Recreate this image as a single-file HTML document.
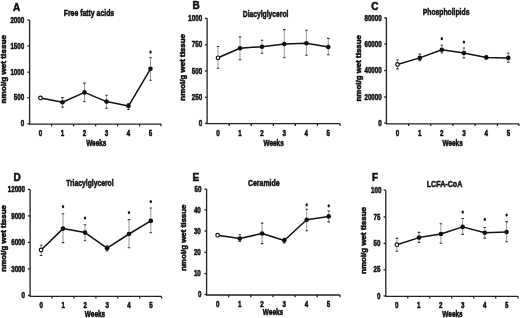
<!DOCTYPE html>
<html><head><meta charset="utf-8"><style>
html,body{margin:0;padding:0;background:#fff;width:520px;height:318px;overflow:hidden}
svg{display:block}
text{font-family:"Liberation Sans", sans-serif;font-weight:bold;fill:#111;stroke:#111;stroke-width:0.55px}
svg{will-change:transform}
.let{font-size:10px}
.tit{font-size:9.4px}
.tick{font-size:8.3px}
.wk{font-size:8.4px}
.yl{font-size:7.4px}
.axis{stroke:#222;stroke-width:1.3;fill:none}
.err{stroke:#777;stroke-width:0.75;fill:none}
.cap{stroke:#333;stroke-width:1.1;fill:none}
.ln{stroke:#111;stroke-width:1.5;fill:none;stroke-linejoin:round}
.fl{fill:#111}
.op{fill:#fff;stroke:#111;stroke-width:1.2}
.st{fill:#111}
</style></head><body>
<svg width="520" height="318" viewBox="0 0 520 318">
<rect width="520" height="318" fill="#fff"/>
<text x="13.0" y="10.6" class="let">A</text>
<text x="63.7" y="15.9" class="tit" textLength="50.5" lengthAdjust="spacingAndGlyphs">Free fatty acids</text>
<path d="M29.6 20V124.1H161" class="axis"/>
<path d="M27.4 20.1H29.6" class="axis"/>
<text x="24.2" y="22.7" class="tick" text-anchor="end" textLength="13.80" lengthAdjust="spacingAndGlyphs">2000</text>
<path d="M27.4 45.9H29.6" class="axis"/>
<text x="24.2" y="48.5" class="tick" text-anchor="end" textLength="13.80" lengthAdjust="spacingAndGlyphs">1500</text>
<path d="M27.4 72.2H29.6" class="axis"/>
<text x="24.2" y="74.8" class="tick" text-anchor="end" textLength="13.80" lengthAdjust="spacingAndGlyphs">1000</text>
<path d="M27.4 97.8H29.6" class="axis"/>
<text x="24.2" y="100.4" class="tick" text-anchor="end" textLength="10.35" lengthAdjust="spacingAndGlyphs">500</text>
<path d="M27.4 123.8H29.6" class="axis"/>
<text x="24.2" y="126.4" class="tick" text-anchor="end" textLength="3.45" lengthAdjust="spacingAndGlyphs">0</text>
<path d="M51.6 124.1v2.2" class="axis"/>
<path d="M73.6 124.1v2.2" class="axis"/>
<path d="M95.6 124.1v2.2" class="axis"/>
<path d="M117.6 124.1v2.2" class="axis"/>
<path d="M139.6 124.1v2.2" class="axis"/>
<path d="M161.0 124.1v2.2" class="axis"/>
<text x="40.5" y="135.8" class="tick" text-anchor="middle" textLength="3.45" lengthAdjust="spacingAndGlyphs">0</text>
<text x="62.5" y="135.8" class="tick" text-anchor="middle" textLength="3.45" lengthAdjust="spacingAndGlyphs">1</text>
<text x="84.5" y="135.8" class="tick" text-anchor="middle" textLength="3.45" lengthAdjust="spacingAndGlyphs">2</text>
<text x="106.5" y="135.8" class="tick" text-anchor="middle" textLength="3.45" lengthAdjust="spacingAndGlyphs">3</text>
<text x="128.5" y="135.8" class="tick" text-anchor="middle" textLength="3.45" lengthAdjust="spacingAndGlyphs">4</text>
<text x="150.5" y="135.8" class="tick" text-anchor="middle" textLength="3.45" lengthAdjust="spacingAndGlyphs">5</text>
<text x="96.3" y="146.0" class="wk" text-anchor="middle" textLength="20.3" lengthAdjust="spacingAndGlyphs">Weeks</text>
<text transform="translate(6.0 103.6) rotate(-90)" x="0" y="0" class="yl" textLength="68.6" lengthAdjust="spacingAndGlyphs">nmol/g wet tissue</text>
<path d="M62.5 97.6V107.1" class="err"/><path d="M61.25 97.6h2.5M61.25 107.1h2.5" class="cap"/>
<path d="M84.5 83.1V101.8" class="err"/><path d="M83.25 83.1h2.5M83.25 101.8h2.5" class="cap"/>
<path d="M106.5 95.2V108.2" class="err"/><path d="M105.25 95.2h2.5M105.25 108.2h2.5" class="cap"/>
<path d="M128.5 103.6V109.5" class="err"/><path d="M127.25 103.6h2.5M127.25 109.5h2.5" class="cap"/>
<path d="M150.5 57.7V80.3" class="err"/><path d="M149.25 57.7h2.5M149.25 80.3h2.5" class="cap"/>
<polyline points="40.5,98 62.5,102.3 84.5,92.4 106.5,101.6 128.5,106.1 150.5,68.8" class="ln"/>
<circle cx="40.5" cy="98" r="1.8" class="op"/>
<circle cx="62.5" cy="102.3" r="2.3" class="fl"/>
<circle cx="84.5" cy="92.4" r="2.3" class="fl"/>
<circle cx="106.5" cy="101.6" r="2.3" class="fl"/>
<circle cx="128.5" cy="106.1" r="2.3" class="fl"/>
<circle cx="150.5" cy="68.8" r="2.3" class="fl"/>
<ellipse cx="150.5" cy="52.1" rx="1.2" ry="1.6" class="st"/>
<text x="192.6" y="8.9" class="let">B</text>
<text x="242.8" y="16.7" class="tit" textLength="45.6" lengthAdjust="spacingAndGlyphs">Diacylglycerol</text>
<path d="M207.1 18.3V123.7H340" class="axis"/>
<path d="M204.9 18.3H207.1" class="axis"/>
<text x="202.1" y="20.9" class="tick" text-anchor="end" textLength="13.80" lengthAdjust="spacingAndGlyphs">1000</text>
<path d="M204.9 44.8H207.1" class="axis"/>
<text x="202.1" y="47.4" class="tick" text-anchor="end" textLength="10.35" lengthAdjust="spacingAndGlyphs">750</text>
<path d="M204.9 71.0H207.1" class="axis"/>
<text x="202.1" y="73.6" class="tick" text-anchor="end" textLength="10.35" lengthAdjust="spacingAndGlyphs">500</text>
<path d="M204.9 97.2H207.1" class="axis"/>
<text x="202.1" y="99.8" class="tick" text-anchor="end" textLength="10.35" lengthAdjust="spacingAndGlyphs">250</text>
<path d="M204.9 123.4H207.1" class="axis"/>
<text x="202.1" y="126.0" class="tick" text-anchor="end" textLength="3.45" lengthAdjust="spacingAndGlyphs">0</text>
<path d="M229.2 123.7v2.2" class="axis"/>
<path d="M251.2 123.7v2.2" class="axis"/>
<path d="M273.3 123.7v2.2" class="axis"/>
<path d="M295.3 123.7v2.2" class="axis"/>
<path d="M317.4 123.7v2.2" class="axis"/>
<path d="M340.0 123.7v2.2" class="axis"/>
<text x="218" y="135.9" class="tick" text-anchor="middle" textLength="3.45" lengthAdjust="spacingAndGlyphs">0</text>
<text x="240" y="135.9" class="tick" text-anchor="middle" textLength="3.45" lengthAdjust="spacingAndGlyphs">1</text>
<text x="262" y="135.9" class="tick" text-anchor="middle" textLength="3.45" lengthAdjust="spacingAndGlyphs">2</text>
<text x="284.2" y="135.9" class="tick" text-anchor="middle" textLength="3.45" lengthAdjust="spacingAndGlyphs">3</text>
<text x="306.3" y="135.9" class="tick" text-anchor="middle" textLength="3.45" lengthAdjust="spacingAndGlyphs">4</text>
<text x="328.3" y="135.9" class="tick" text-anchor="middle" textLength="3.45" lengthAdjust="spacingAndGlyphs">5</text>
<text x="273.6" y="145.8" class="wk" text-anchor="middle" textLength="20.3" lengthAdjust="spacingAndGlyphs">Weeks</text>
<text transform="translate(185.0 100.7) rotate(-90)" x="0" y="0" class="yl" textLength="66.7" lengthAdjust="spacingAndGlyphs">nmol/g wet tissue</text>
<path d="M218 46.5V68.3" class="err"/><path d="M216.75 46.5h2.5M216.75 68.3h2.5" class="cap"/>
<path d="M240 36.9V59.8" class="err"/><path d="M238.75 36.9h2.5M238.75 59.8h2.5" class="cap"/>
<path d="M262 40.2V53.3" class="err"/><path d="M260.75 40.2h2.5M260.75 53.3h2.5" class="cap"/>
<path d="M284.3 29.6V57.8" class="err"/><path d="M283.05 29.6h2.5M283.05 57.8h2.5" class="cap"/>
<path d="M306.4 30.2V55.3" class="err"/><path d="M305.15 30.2h2.5M305.15 55.3h2.5" class="cap"/>
<path d="M328.3 38.4V54.8" class="err"/><path d="M327.05 38.4h2.5M327.05 54.8h2.5" class="cap"/>
<polyline points="218,57.8 240,48.2 262,46.7 284.3,44 306.4,43.2 328.3,47" class="ln"/>
<circle cx="218" cy="57.8" r="1.8" class="op"/>
<circle cx="240" cy="48.2" r="2.3" class="fl"/>
<circle cx="262" cy="46.7" r="2.3" class="fl"/>
<circle cx="284.3" cy="44" r="2.3" class="fl"/>
<circle cx="306.4" cy="43.2" r="2.3" class="fl"/>
<circle cx="328.3" cy="47" r="2.3" class="fl"/>
<text x="371.2" y="9.7" class="let">C</text>
<text x="422.8" y="15.1" class="tit" textLength="46.6" lengthAdjust="spacingAndGlyphs">Phospholipids</text>
<path d="M386.4 17.8V123.8H519" class="axis"/>
<path d="M384.2 17.9H386.4" class="axis"/>
<text x="381.7" y="20.5" class="tick" text-anchor="end" textLength="17.25" lengthAdjust="spacingAndGlyphs">80000</text>
<path d="M384.2 44.0H386.4" class="axis"/>
<text x="381.7" y="46.6" class="tick" text-anchor="end" textLength="17.25" lengthAdjust="spacingAndGlyphs">60000</text>
<path d="M384.2 70.5H386.4" class="axis"/>
<text x="381.7" y="73.1" class="tick" text-anchor="end" textLength="17.25" lengthAdjust="spacingAndGlyphs">40000</text>
<path d="M384.2 97.0H386.4" class="axis"/>
<text x="381.7" y="99.6" class="tick" text-anchor="end" textLength="17.25" lengthAdjust="spacingAndGlyphs">20000</text>
<path d="M384.2 123.0H386.4" class="axis"/>
<text x="381.7" y="125.6" class="tick" text-anchor="end" textLength="3.45" lengthAdjust="spacingAndGlyphs">0</text>
<path d="M408.6 123.8v2.2" class="axis"/>
<path d="M430.8 123.8v2.2" class="axis"/>
<path d="M452.9 123.8v2.2" class="axis"/>
<path d="M475.1 123.8v2.2" class="axis"/>
<path d="M497.3 123.8v2.2" class="axis"/>
<path d="M519.0 123.8v2.2" class="axis"/>
<text x="397.5" y="135.5" class="tick" text-anchor="middle" textLength="3.45" lengthAdjust="spacingAndGlyphs">0</text>
<text x="419.7" y="135.5" class="tick" text-anchor="middle" textLength="3.45" lengthAdjust="spacingAndGlyphs">1</text>
<text x="441.8" y="135.5" class="tick" text-anchor="middle" textLength="3.45" lengthAdjust="spacingAndGlyphs">2</text>
<text x="464.0" y="135.5" class="tick" text-anchor="middle" textLength="3.45" lengthAdjust="spacingAndGlyphs">3</text>
<text x="486.2" y="135.5" class="tick" text-anchor="middle" textLength="3.45" lengthAdjust="spacingAndGlyphs">4</text>
<text x="508.4" y="135.5" class="tick" text-anchor="middle" textLength="3.45" lengthAdjust="spacingAndGlyphs">5</text>
<text x="452.6" y="146.0" class="wk" text-anchor="middle" textLength="20.3" lengthAdjust="spacingAndGlyphs">Weeks</text>
<text transform="translate(360.5 101.5) rotate(-90)" x="0" y="0" class="yl" textLength="66.5" lengthAdjust="spacingAndGlyphs">nmol/g wet tissue</text>
<path d="M397.5 60V68.9" class="err"/><path d="M396.25 60h2.5M396.25 68.9h2.5" class="cap"/>
<path d="M419.8 54.1V60.7" class="err"/><path d="M418.55 54.1h2.5M418.55 60.7h2.5" class="cap"/>
<path d="M441.8 45.3V53" class="err"/><path d="M440.55 45.3h2.5M440.55 53h2.5" class="cap"/>
<path d="M463.9 48V57.9" class="err"/><path d="M462.65 48h2.5M462.65 57.9h2.5" class="cap"/>
<path d="M486.3 56V59" class="err"/><path d="M485.05 56h2.5M485.05 59h2.5" class="cap"/>
<path d="M508.3 53V62.3" class="err"/><path d="M507.05 53h2.5M507.05 62.3h2.5" class="cap"/>
<polyline points="397.5,64.5 419.8,57.9 441.8,49.7 463.9,53 486.3,57.4 508.3,57.9" class="ln"/>
<circle cx="397.5" cy="64.5" r="1.8" class="op"/>
<circle cx="419.8" cy="57.9" r="2.3" class="fl"/>
<circle cx="441.8" cy="49.7" r="2.3" class="fl"/>
<ellipse cx="441.8" cy="38.7" rx="1.2" ry="1.6" class="st"/>
<circle cx="463.9" cy="53" r="2.3" class="fl"/>
<ellipse cx="463.9" cy="42" rx="1.2" ry="1.6" class="st"/>
<circle cx="486.3" cy="57.4" r="2.3" class="fl"/>
<circle cx="508.3" cy="57.9" r="2.3" class="fl"/>
<text x="13.4" y="180.9" class="let">D</text>
<text x="66.2" y="186.4" class="tit" textLength="47.4" lengthAdjust="spacingAndGlyphs">Triacylglycerol</text>
<path d="M30.1 189.4V296.3H161.6" class="axis"/>
<path d="M27.9 189.4H30.1" class="axis"/>
<text x="25.0" y="192.0" class="tick" text-anchor="end" textLength="17.25" lengthAdjust="spacingAndGlyphs">12000</text>
<path d="M27.9 215.9H30.1" class="axis"/>
<text x="25.0" y="218.5" class="tick" text-anchor="end" textLength="13.80" lengthAdjust="spacingAndGlyphs">9000</text>
<path d="M27.9 242.4H30.1" class="axis"/>
<text x="25.0" y="245.0" class="tick" text-anchor="end" textLength="13.80" lengthAdjust="spacingAndGlyphs">6000</text>
<path d="M27.9 268.9H30.1" class="axis"/>
<text x="25.0" y="271.5" class="tick" text-anchor="end" textLength="13.80" lengthAdjust="spacingAndGlyphs">3000</text>
<path d="M27.9 295.4H30.1" class="axis"/>
<text x="25.0" y="298.0" class="tick" text-anchor="end" textLength="3.45" lengthAdjust="spacingAndGlyphs">0</text>
<path d="M52.0 296.3v2.2" class="axis"/>
<path d="M73.9 296.3v2.2" class="axis"/>
<path d="M95.9 296.3v2.2" class="axis"/>
<path d="M117.8 296.3v2.2" class="axis"/>
<path d="M139.7 296.3v2.2" class="axis"/>
<path d="M161.6 296.3v2.2" class="axis"/>
<text x="41.3" y="307.5" class="tick" text-anchor="middle" textLength="3.45" lengthAdjust="spacingAndGlyphs">0</text>
<text x="63.2" y="307.5" class="tick" text-anchor="middle" textLength="3.45" lengthAdjust="spacingAndGlyphs">1</text>
<text x="85.1" y="307.5" class="tick" text-anchor="middle" textLength="3.45" lengthAdjust="spacingAndGlyphs">2</text>
<text x="107.1" y="307.5" class="tick" text-anchor="middle" textLength="3.45" lengthAdjust="spacingAndGlyphs">3</text>
<text x="129" y="307.5" class="tick" text-anchor="middle" textLength="3.45" lengthAdjust="spacingAndGlyphs">4</text>
<text x="150.9" y="307.5" class="tick" text-anchor="middle" textLength="3.45" lengthAdjust="spacingAndGlyphs">5</text>
<text x="95.0" y="316.9" class="wk" text-anchor="middle" textLength="20.3" lengthAdjust="spacingAndGlyphs">Weeks</text>
<text transform="translate(6.0 271.7) rotate(-90)" x="0" y="0" class="yl" textLength="66.7" lengthAdjust="spacingAndGlyphs">nmol/g wet tissue</text>
<path d="M41.1 245.2V255.5" class="err"/><path d="M39.85 245.2h2.5M39.85 255.5h2.5" class="cap"/>
<path d="M63.0 213.7V242.6" class="err"/><path d="M61.75 213.7h2.5M61.75 242.6h2.5" class="cap"/>
<path d="M85.0 224.7V240.8" class="err"/><path d="M83.75 224.7h2.5M83.75 240.8h2.5" class="cap"/>
<path d="M107.1 245.8V251.0" class="err"/><path d="M105.85 245.8h2.5M105.85 251.0h2.5" class="cap"/>
<path d="M129.0 219.6V247.8" class="err"/><path d="M127.75 219.6h2.5M127.75 247.8h2.5" class="cap"/>
<path d="M150.8 208.0V232.7" class="err"/><path d="M149.55 208.0h2.5M149.55 232.7h2.5" class="cap"/>
<polyline points="41.1,250 63.0,228.6 85.0,232.6 107.1,248.2 129.0,234.0 150.8,220.9" class="ln"/>
<circle cx="41.1" cy="250" r="1.8" class="op"/>
<circle cx="63.0" cy="228.6" r="2.3" class="fl"/>
<ellipse cx="63.0" cy="206.6" rx="1.2" ry="1.6" class="st"/>
<circle cx="85.0" cy="232.6" r="2.3" class="fl"/>
<ellipse cx="85.0" cy="218.0" rx="1.2" ry="1.6" class="st"/>
<circle cx="107.1" cy="248.2" r="2.3" class="fl"/>
<circle cx="129.0" cy="234.0" r="2.3" class="fl"/>
<ellipse cx="129.0" cy="212.5" rx="1.2" ry="1.6" class="st"/>
<circle cx="150.8" cy="220.9" r="2.3" class="fl"/>
<ellipse cx="150.8" cy="201.6" rx="1.2" ry="1.6" class="st"/>
<text x="192.5" y="180.9" class="let">E</text>
<text x="248.0" y="186.3" class="tit" textLength="31.6" lengthAdjust="spacingAndGlyphs">Ceramide</text>
<path d="M206.6 189.1V295H340" class="axis"/>
<path d="M204.4 189.1H206.6" class="axis"/>
<text x="201.5" y="191.7" class="tick" text-anchor="end" textLength="6.90" lengthAdjust="spacingAndGlyphs">50</text>
<path d="M204.4 209.9H206.6" class="axis"/>
<text x="200.8" y="212.5" class="tick" text-anchor="end" textLength="6.90" lengthAdjust="spacingAndGlyphs">40</text>
<path d="M204.4 231.0H206.6" class="axis"/>
<text x="200.8" y="233.6" class="tick" text-anchor="end" textLength="6.90" lengthAdjust="spacingAndGlyphs">30</text>
<path d="M204.4 252.3H206.6" class="axis"/>
<text x="200.8" y="254.9" class="tick" text-anchor="end" textLength="6.90" lengthAdjust="spacingAndGlyphs">20</text>
<path d="M204.4 273.6H206.6" class="axis"/>
<text x="200.8" y="276.2" class="tick" text-anchor="end" textLength="6.90" lengthAdjust="spacingAndGlyphs">10</text>
<path d="M204.4 294.5H206.6" class="axis"/>
<text x="201.5" y="297.1" class="tick" text-anchor="end" textLength="3.45" lengthAdjust="spacingAndGlyphs">0</text>
<path d="M228.7 295v2.2" class="axis"/>
<path d="M250.8 295v2.2" class="axis"/>
<path d="M273.0 295v2.2" class="axis"/>
<path d="M295.1 295v2.2" class="axis"/>
<path d="M317.2 295v2.2" class="axis"/>
<path d="M340.0 295v2.2" class="axis"/>
<text x="217.8" y="306.6" class="tick" text-anchor="middle" textLength="3.45" lengthAdjust="spacingAndGlyphs">0</text>
<text x="239.8" y="306.6" class="tick" text-anchor="middle" textLength="3.45" lengthAdjust="spacingAndGlyphs">1</text>
<text x="261.9" y="306.6" class="tick" text-anchor="middle" textLength="3.45" lengthAdjust="spacingAndGlyphs">2</text>
<text x="284.2" y="306.6" class="tick" text-anchor="middle" textLength="3.45" lengthAdjust="spacingAndGlyphs">3</text>
<text x="306.4" y="306.6" class="tick" text-anchor="middle" textLength="3.45" lengthAdjust="spacingAndGlyphs">4</text>
<text x="328.4" y="306.6" class="tick" text-anchor="middle" textLength="3.45" lengthAdjust="spacingAndGlyphs">5</text>
<text x="273" y="314.6" class="wk" text-anchor="middle" textLength="20.3" lengthAdjust="spacingAndGlyphs">Weeks</text>
<text transform="translate(186.2 271.0) rotate(-90)" x="0" y="0" class="yl" textLength="66.5" lengthAdjust="spacingAndGlyphs">nmol/g wet tissue</text>
<path d="M239.8 234.8V241.4" class="err"/><path d="M238.55 234.8h2.5M238.55 241.4h2.5" class="cap"/>
<path d="M262.1 223.1V243.6" class="err"/><path d="M260.85 223.1h2.5M260.85 243.6h2.5" class="cap"/>
<path d="M284.3 238.4V243" class="err"/><path d="M283.05 238.4h2.5M283.05 243h2.5" class="cap"/>
<path d="M306.7 209.3V230.7" class="err"/><path d="M305.45 209.3h2.5M305.45 230.7h2.5" class="cap"/>
<path d="M328.7 211V221.9" class="err"/><path d="M327.45 211h2.5M327.45 221.9h2.5" class="cap"/>
<polyline points="217.6,235.2 239.8,238.5 262.1,233.5 284.3,240.5 306.7,219.7 328.7,216.4" class="ln"/>
<circle cx="217.6" cy="235.2" r="1.8" class="op"/>
<circle cx="239.8" cy="238.5" r="2.3" class="fl"/>
<circle cx="262.1" cy="233.5" r="2.3" class="fl"/>
<circle cx="284.3" cy="240.5" r="2.3" class="fl"/>
<circle cx="306.7" cy="219.7" r="2.3" class="fl"/>
<ellipse cx="306.7" cy="204.8" rx="1.2" ry="1.6" class="st"/>
<circle cx="328.7" cy="216.4" r="2.3" class="fl"/>
<ellipse cx="328.7" cy="205.8" rx="1.2" ry="1.6" class="st"/>
<text x="371.9" y="181.3" class="let">F</text>
<text x="426.7" y="186.8" class="tit" textLength="35.6" lengthAdjust="spacingAndGlyphs">LCFA-CoA</text>
<path d="M385.8 190.2V296.3H518" class="axis"/>
<path d="M383.6 190.1H385.8" class="axis"/>
<text x="381.4" y="192.7" class="tick" text-anchor="end" textLength="10.35" lengthAdjust="spacingAndGlyphs">100</text>
<path d="M383.6 217.0H385.8" class="axis"/>
<text x="380.4" y="219.6" class="tick" text-anchor="end" textLength="6.90" lengthAdjust="spacingAndGlyphs">75</text>
<path d="M383.6 243.4H385.8" class="axis"/>
<text x="380.4" y="246.0" class="tick" text-anchor="end" textLength="6.90" lengthAdjust="spacingAndGlyphs">50</text>
<path d="M383.6 269.8H385.8" class="axis"/>
<text x="380.4" y="272.4" class="tick" text-anchor="end" textLength="6.90" lengthAdjust="spacingAndGlyphs">25</text>
<path d="M383.6 295.9H385.8" class="axis"/>
<text x="380.4" y="298.5" class="tick" text-anchor="end" textLength="3.45" lengthAdjust="spacingAndGlyphs">0</text>
<path d="M407.8 296.3v2.2" class="axis"/>
<path d="M429.8 296.3v2.2" class="axis"/>
<path d="M451.7 296.3v2.2" class="axis"/>
<path d="M473.7 296.3v2.2" class="axis"/>
<path d="M495.7 296.3v2.2" class="axis"/>
<path d="M518.0 296.3v2.2" class="axis"/>
<text x="396.8" y="307.7" class="tick" text-anchor="middle" textLength="3.45" lengthAdjust="spacingAndGlyphs">0</text>
<text x="418.8" y="307.7" class="tick" text-anchor="middle" textLength="3.45" lengthAdjust="spacingAndGlyphs">1</text>
<text x="440.8" y="307.7" class="tick" text-anchor="middle" textLength="3.45" lengthAdjust="spacingAndGlyphs">2</text>
<text x="462.7" y="307.7" class="tick" text-anchor="middle" textLength="3.45" lengthAdjust="spacingAndGlyphs">3</text>
<text x="484.8" y="307.7" class="tick" text-anchor="middle" textLength="3.45" lengthAdjust="spacingAndGlyphs">4</text>
<text x="506.7" y="307.7" class="tick" text-anchor="middle" textLength="3.45" lengthAdjust="spacingAndGlyphs">5</text>
<text x="452.5" y="317.3" class="wk" text-anchor="middle" textLength="20.3" lengthAdjust="spacingAndGlyphs">Weeks</text>
<text transform="translate(365.5 274.0) rotate(-90)" x="0" y="0" class="yl" textLength="67.0" lengthAdjust="spacingAndGlyphs">nmol/g wet tissue</text>
<path d="M396.9 238.4V251.3" class="err"/><path d="M395.65 238.4h2.5M395.65 251.3h2.5" class="cap"/>
<path d="M419.0 232.4V242.4" class="err"/><path d="M417.75 232.4h2.5M417.75 242.4h2.5" class="cap"/>
<path d="M440.9 223.8V243.2" class="err"/><path d="M439.65 223.8h2.5M439.65 243.2h2.5" class="cap"/>
<path d="M462.7 218.5V234.4" class="err"/><path d="M461.45 218.5h2.5M461.45 234.4h2.5" class="cap"/>
<path d="M484.8 227.5V238.1" class="err"/><path d="M483.55 227.5h2.5M483.55 238.1h2.5" class="cap"/>
<path d="M506.6 221.6V241.8" class="err"/><path d="M505.35 221.6h2.5M505.35 241.8h2.5" class="cap"/>
<polyline points="396.9,244.7 419.0,237.6 440.9,234.0 462.7,226.9 484.8,232.8 506.6,232.0" class="ln"/>
<circle cx="396.9" cy="244.7" r="1.8" class="op"/>
<circle cx="419.0" cy="237.6" r="2.3" class="fl"/>
<circle cx="440.9" cy="234.0" r="2.3" class="fl"/>
<circle cx="462.7" cy="226.9" r="2.3" class="fl"/>
<ellipse cx="462.7" cy="212.1" rx="1.2" ry="1.6" class="st"/>
<circle cx="484.8" cy="232.8" r="2.3" class="fl"/>
<ellipse cx="484.8" cy="219.4" rx="1.2" ry="1.6" class="st"/>
<circle cx="506.6" cy="232.0" r="2.3" class="fl"/>
<ellipse cx="506.6" cy="215.0" rx="1.2" ry="1.6" class="st"/>
</svg>
</body></html>
